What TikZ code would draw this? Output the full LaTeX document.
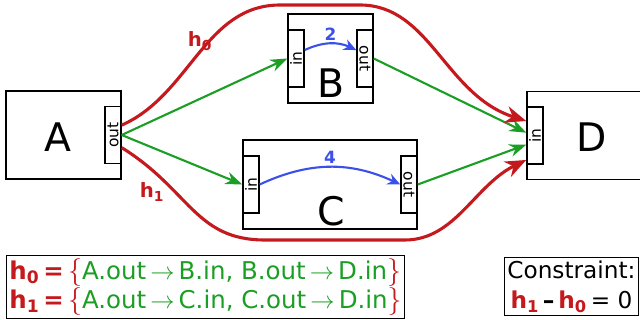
\documentclass[tikz,border=0pt]{standalone}
\usepackage{fontspec}
\setmainfont{DejaVu Sans}
\usetikzlibrary{arrows.meta,positioning,calc}
\definecolor{hred}{RGB}{196,26,30}
\definecolor{hgreen}{RGB}{26,158,36}
\definecolor{hblue}{RGB}{58,80,232}
\newcommand{\hvar}[1]{\textcolor{hred}{\textbf{h\textsubscript{#1}}}}
\newcommand{\hbrace}[1]{\textcolor{hred}{\scalebox{1.15}{$\csname #1\endcsname$}}}
\tikzset{
  block/.style={draw, line width=1pt, minimum width=2.875cm, minimum height=2.2cm, inner sep=0pt},
  port/.style={draw, line width=1pt, minimum width=0.4cm, minimum height=1.425cm, inner sep=0pt,
    font=\fontsize{11}{12}\selectfont},
  blocklabel/.style={font=\fontsize{28}{30}\selectfont},
  flow/.style={hgreen, line width=1.5pt, -{Stealth[length=12pt, width=9pt]}},
  cost/.style={hblue, line width=1.5pt, -{Stealth[length=9pt, width=8pt]}},
  costlabel/.style={font=\fontsize{12}{14}\selectfont\bfseries, text=hblue, inner sep=1.5pt},
  hpath/.style={hred, line width=2.2pt, -{Stealth[length=15pt, width=12pt]}},
  hlabel/.style={font=\fontsize{14}{16}\selectfont\bfseries, text=hred},
  legend/.style={draw, line width=0.8pt, inner sep=2pt},
}
\begin{document}
\begin{tikzpicture}[x=0.025cm, y=-0.025cm]
    \useasboundingbox (0,0) rectangle (640,320);

    % Blocks and their ports
    \node[block] (A) at (63.5,135) {};
    \node[port, anchor=east] (Aout) at (A.east) {\rotatebox{90}{out}};
    \node[blocklabel] (Alabel) at (58,137) {A};

    \node[block, minimum width=2.125cm, minimum height=2.225cm] (B) at (330.5,58.5) {};
    \node[port, anchor=west] (Bin) at (B.west) {\rotatebox{90}{in}};
    \node[port, anchor=east] (Bout) at (B.east) {\rotatebox{-90}{out}};
    \node[blocklabel] (Blabel) at (331,83) {B};

    \node[block, minimum width=4.35cm, minimum height=2.225cm] (C) at (330,184.5) {};
    \node[port, anchor=west] (Cin) at (C.west) {\rotatebox{90}{in}};
    \node[port, anchor=east] (Cout) at (C.east) {\rotatebox{-90}{out}};
    \node[blocklabel] (Clabel) at (331,211) {C};

    \node[block] (D) at (584.5,135.5) {};
    \node[port, anchor=west] (Din) at (D.west) {\rotatebox{90}{in}};
    \node[blocklabel] (Dlabel) at (592,137) {D};

    % Internal costs
    \draw[cost] ([yshift=6pt]Bin.east) to[bend left=25] node[above, costlabel] (w2) {2} ([yshift=6pt]Bout.west);
    \draw[cost] (Cin.east) to[bend left=25] node[above, costlabel] (w4) {4} (Cout.west);

    % Connections
    \draw[flow] (Aout.east) -- (Bin.west);
    \draw[flow] (Aout.east) -- (Cin.west);
    \draw[flow] (Bout.east) -- ([yshift=2pt]Din.west);
    \draw[flow] (Cout.east) -- ([yshift=-6.5pt]Din.west);

    % Paths
    \draw[hpath] ([yshift=7pt]Aout.east) .. controls (190,95) and (205,5) .. (280,5)
        -- (360,5) .. controls (430,5) and (445,95) .. ([yshift=10.3pt]Din.west);
    \draw[hpath] ([yshift=-9pt]Aout.east) .. controls (190,190) and (195,240) .. (265,240)
        -- (405,240) .. controls (455,240) and (475,185) .. ([yshift=-17.4pt]Din.west);
    \node[hlabel] (h0lab) at (200,41) {h\textsubscript{0}};
    \node[hlabel] (h1lab) at (152,192) {h\textsubscript{1}};

    % Legend
    \node[legend, anchor=north west, align=left, font=\fontsize{17.4}{20.6}\selectfont] (paths) at (6,255)
        {\hvar{0}\,\textcolor{hred}{\textbf{=}}\,\hbrace{lbrace}\textcolor{hgreen}{A.out\,$\rightarrow$\,B.in, B.out\,$\rightarrow$\,D.in}\hbrace{rbrace}\\
         \hvar{1}\,\textcolor{hred}{\textbf{=}}\,\hbrace{lbrace}\textcolor{hgreen}{A.out\,$\rightarrow$\,C.in, C.out\,$\rightarrow$\,D.in}\hbrace{rbrace}};
    \node[legend, anchor=north west, align=center, font=\fontsize{16.5}{22}\selectfont] (rule) at (504,257)
        {Constraint:\\ \hvar{1}\,\textbf{–}\,\hvar{0}\,= 0};
\end{tikzpicture}
\end{document}
